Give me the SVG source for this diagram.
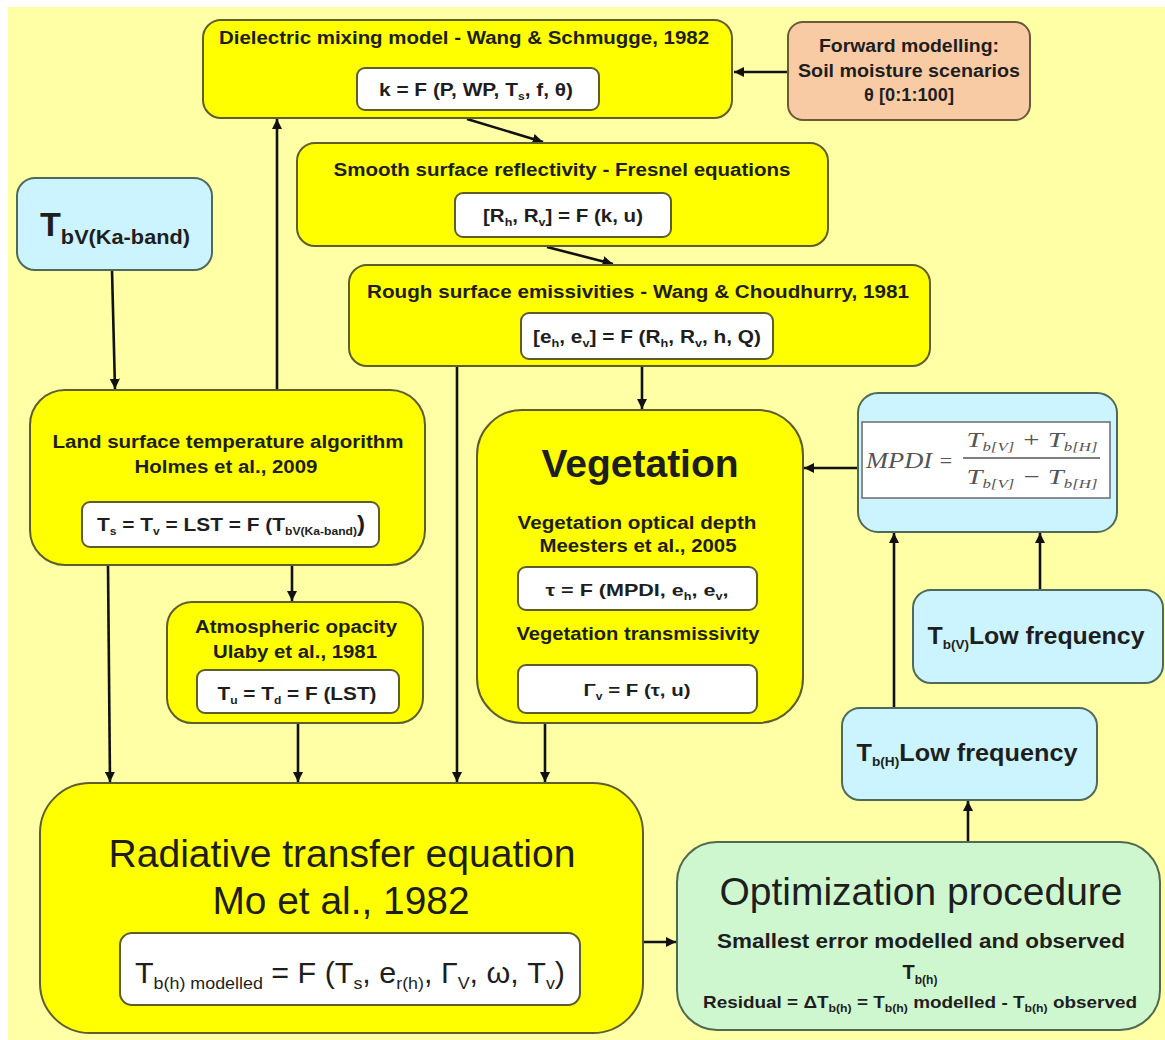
<svg xmlns="http://www.w3.org/2000/svg" width="1165" height="1040" viewBox="0 0 1165 1040">
<defs>
<marker id="ah" viewBox="0 0 10 10" refX="10" refY="5" markerWidth="4" markerHeight="4" orient="auto" markerUnits="strokeWidth">
<path d="M0,0 L10,5 L0,10 z" fill="#111"/>
</marker>
<style>
text{font-family:"Liberation Sans",Arial,sans-serif;fill:#1e1e1e;text-anchor:middle}
.b{font-weight:bold}
.y{fill:#ffff00;stroke:#5e5e2c;stroke-width:2}
.bl{fill:#ccf4ff;stroke:#4f6a5a;stroke-width:2}
.gr{fill:#cff7cf;stroke:#4f6a4f;stroke-width:2}
.sa{fill:#f9cba5;stroke:#6b5a3a;stroke-width:2}
.w{fill:#ffffff;stroke:#5e5e2c;stroke-width:2}
.c{stroke:#111;stroke-width:2.6;fill:none;marker-end:url(#ah)}
.m{font-family:"Liberation Serif","Times New Roman",serif;font-style:italic;fill:#555}
</style>
</defs>
<rect x="0" y="0" width="1165" height="1040" fill="#ffffff"/>
<rect x="8" y="7" width="1157" height="1033" fill="#ffffa6"/>

<g id="connectors">
<line class="c" x1="788" y1="72" x2="734" y2="72"/>
<line class="c" x1="467" y1="119" x2="543" y2="142"/>
<line class="c" x1="547" y1="247" x2="613" y2="264"/>
<line class="c" x1="112" y1="270" x2="115" y2="389"/>
<line class="c" x1="277" y1="390" x2="277" y2="119"/>
<line class="c" x1="292" y1="565" x2="292" y2="601"/>
<line class="c" x1="108" y1="565" x2="110" y2="782"/>
<line class="c" x1="298" y1="723" x2="298" y2="782"/>
<line class="c" x1="457" y1="366" x2="457" y2="782"/>
<line class="c" x1="642" y1="366" x2="642" y2="409"/>
<line class="c" x1="545" y1="723" x2="545" y2="782"/>
<line class="c" x1="858" y1="468" x2="804" y2="468"/>
<line class="c" x1="894" y1="708" x2="894" y2="533"/>
<line class="c" x1="1040" y1="590" x2="1040" y2="533"/>
<line class="c" x1="643" y1="942" x2="676" y2="942"/>
<line class="c" x1="968" y1="842" x2="968" y2="801"/>
</g>

<g id="dielectric">
<rect class="y" x="203" y="20" width="529" height="98" rx="18"/>
<text class="b" x="464" y="44" font-size="18" textLength="490" lengthAdjust="spacingAndGlyphs">Dielectric mixing model - Wang &amp; Schmugge, 1982</text>
<rect class="w" x="357" y="68" width="242" height="42" rx="8"/>
<text class="b" x="476" y="96" font-size="19" textLength="194" lengthAdjust="spacingAndGlyphs">k = F (P, WP, T<tspan font-size="11" dy="4">s</tspan><tspan dy="-4">, f, θ)</tspan></text>
</g>

<g id="forward">
<rect class="sa" x="788" y="22" width="242" height="98" rx="15"/>
<text class="b" x="909" y="52" font-size="18" textLength="180" lengthAdjust="spacingAndGlyphs">Forward modelling:</text>
<text class="b" x="909" y="77" font-size="18" textLength="222" lengthAdjust="spacingAndGlyphs">Soil moisture scenarios</text>
<text class="b" x="909" y="101" font-size="18" textLength="90" lengthAdjust="spacingAndGlyphs">θ [0:1:100]</text>
</g>

<g id="smooth">
<rect class="y" x="297" y="143" width="531" height="103" rx="18"/>
<text class="b" x="562" y="176" font-size="18" textLength="457" lengthAdjust="spacingAndGlyphs">Smooth surface reflectivity - Fresnel equations</text>
<rect class="w" x="455" y="193" width="216" height="44" rx="8"/>
<text class="b" x="563" y="222" font-size="18" textLength="160" lengthAdjust="spacingAndGlyphs">[R<tspan font-size="11" dy="4">h</tspan><tspan dy="-4">, R</tspan><tspan font-size="11" dy="4">v</tspan><tspan dy="-4">] = F (k, u)</tspan></text>
</g>

<g id="rough">
<rect class="y" x="349" y="265" width="581" height="101" rx="18"/>
<text class="b" x="638" y="298" font-size="18" textLength="542" lengthAdjust="spacingAndGlyphs">Rough surface emissivities - Wang &amp; Choudhurry, 1981</text>
<rect class="w" x="521" y="313" width="252" height="46" rx="8"/>
<text class="b" x="647" y="343" font-size="18" textLength="228" lengthAdjust="spacingAndGlyphs">[e<tspan font-size="11" dy="4">h</tspan><tspan dy="-4">, e</tspan><tspan font-size="11" dy="4">v</tspan><tspan dy="-4">] = F (R</tspan><tspan font-size="11" dy="4">h</tspan><tspan dy="-4">, R</tspan><tspan font-size="11" dy="4">v</tspan><tspan dy="-4">, h, Q)</tspan></text>
</g>

<g id="tbv-ka">
<rect class="bl" x="17" y="178" width="195" height="92" rx="18"/>
<text class="b" x="115" y="236" font-size="33" textLength="150" lengthAdjust="spacingAndGlyphs">T<tspan font-size="21" dy="8">bV(Ka-band)</tspan></text>
</g>

<g id="land">
<rect class="y" x="30" y="390" width="395" height="175" rx="35"/>
<text class="b" x="228" y="448" font-size="18" textLength="351" lengthAdjust="spacingAndGlyphs">Land surface temperature algorithm</text>
<text class="b" x="226" y="473" font-size="18" textLength="183" lengthAdjust="spacingAndGlyphs">Holmes et al., 2009</text>
<rect class="w" x="82" y="502" width="297" height="45" rx="8"/>
<text class="b" x="231" y="531" font-size="19" textLength="268" lengthAdjust="spacingAndGlyphs">T<tspan font-size="11" dy="4">s</tspan><tspan dy="-4"> = T</tspan><tspan font-size="11" dy="4">v</tspan><tspan dy="-4"> = LST = F (T</tspan><tspan font-size="11" dy="4">bV(Ka-band)</tspan><tspan dy="-4" font-size="22">)</tspan></text>
</g>

<g id="atmos">
<rect class="y" x="167" y="602" width="256" height="121" rx="25"/>
<text class="b" x="296" y="633" font-size="18" textLength="202" lengthAdjust="spacingAndGlyphs">Atmospheric opacity</text>
<text class="b" x="295" y="658" font-size="18" textLength="164" lengthAdjust="spacingAndGlyphs">Ulaby et al., 1981</text>
<rect class="w" x="197" y="670" width="202" height="43" rx="8"/>
<text class="b" x="297" y="700" font-size="19" textLength="159" lengthAdjust="spacingAndGlyphs">T<tspan font-size="11" dy="4">u</tspan><tspan dy="-4"> = T</tspan><tspan font-size="11" dy="4">d</tspan><tspan dy="-4"> = F (LST)</tspan></text>
</g>

<g id="vegetation">
<rect class="y" x="477" y="410" width="326" height="313" rx="45"/>
<text class="b" x="640" y="477" font-size="39">Vegetation</text>
<text class="b" x="637" y="529" font-size="18" textLength="239" lengthAdjust="spacingAndGlyphs">Vegetation optical depth</text>
<text class="b" x="638" y="552" font-size="18" textLength="197" lengthAdjust="spacingAndGlyphs">Meesters et al., 2005</text>
<rect class="w" x="518" y="567" width="239" height="43" rx="8"/>
<text class="b" x="637" y="596" font-size="17" textLength="183" lengthAdjust="spacingAndGlyphs">τ = F (MPDI, e<tspan font-size="10" dy="4">h</tspan><tspan dy="-4">, e</tspan><tspan font-size="10" dy="4">v</tspan><tspan dy="-4">,</tspan></text>
<text class="b" x="638" y="640" font-size="18" textLength="243" lengthAdjust="spacingAndGlyphs">Vegetation transmissivity</text>
<rect class="w" x="518" y="665" width="239" height="48" rx="8"/>
<text class="b" x="637" y="696" font-size="17" textLength="107" lengthAdjust="spacingAndGlyphs">Γ<tspan font-size="10" dy="4">v</tspan><tspan dy="-4"> = F (τ, u)</tspan></text>
</g>

<g id="mpdi">
<rect class="bl" x="858" y="393" width="259" height="139" rx="20"/>
<rect x="862" y="422" width="248" height="76" fill="#ffffff" stroke="#6a6a6a" stroke-width="1.5"/>
<text class="m" x="899" y="468" font-size="23" textLength="66" lengthAdjust="spacingAndGlyphs">MPDI</text>
<text class="m" x="946" y="468" font-size="22" style="font-style:normal">=</text>
<text class="m" x="1032" y="447" font-size="22" textLength="131" lengthAdjust="spacingAndGlyphs">T<tspan font-size="13" dy="4">b[V]</tspan><tspan dy="-4"> + T</tspan><tspan font-size="13" dy="4">b[H]</tspan></text>
<line x1="963" y1="458" x2="1100" y2="458" stroke="#555" stroke-width="1.3"/>
<text class="m" x="1032" y="484" font-size="22" textLength="131" lengthAdjust="spacingAndGlyphs">T<tspan font-size="13" dy="4">b[V]</tspan><tspan dy="-4"> − T</tspan><tspan font-size="13" dy="4">b[H]</tspan></text>
</g>

<g id="tbv-low">
<rect class="bl" x="913" y="590" width="250" height="93" rx="18"/>
<text class="b" x="1036" y="644" font-size="24" textLength="217" lengthAdjust="spacingAndGlyphs">T<tspan font-size="13" dy="5">b(V)</tspan><tspan dy="-5">Low frequency</tspan></text>
</g>

<g id="tbh-low">
<rect class="bl" x="842" y="708" width="255" height="92" rx="18"/>
<text class="b" x="967" y="761" font-size="24" textLength="221" lengthAdjust="spacingAndGlyphs">T<tspan font-size="13" dy="5">b(H)</tspan><tspan dy="-5">Low frequency</tspan></text>
</g>

<g id="radiative">
<rect class="y" x="40" y="783" width="603" height="250" rx="50"/>
<text x="342" y="867" font-size="38" textLength="467" lengthAdjust="spacingAndGlyphs">Radiative transfer equation</text>
<text x="341" y="914" font-size="38" textLength="257" lengthAdjust="spacingAndGlyphs">Mo et al., 1982</text>
<rect class="w" x="120" y="933" width="460" height="72" rx="12"/>
<text x="350" y="983" font-size="29" textLength="430" lengthAdjust="spacingAndGlyphs">T<tspan font-size="17" dy="6">b(h) modelled</tspan><tspan dy="-6"> = F (T</tspan><tspan font-size="17" dy="6">s</tspan><tspan dy="-6">, e</tspan><tspan font-size="17" dy="6">r(h)</tspan><tspan dy="-6">, Γ</tspan><tspan font-size="17" dy="6">V</tspan><tspan dy="-6">, ω, T</tspan><tspan font-size="17" dy="6">v</tspan><tspan dy="-6">)</tspan></text>
</g>

<g id="optimization">
<rect class="gr" x="677" y="842" width="483" height="188" rx="40"/>
<text x="921" y="905" font-size="38" textLength="403" lengthAdjust="spacingAndGlyphs">Optimization procedure</text>
<text class="b" x="921" y="948" font-size="20" textLength="408" lengthAdjust="spacingAndGlyphs">Smallest error modelled and observed</text>
<text class="b" x="920" y="979" font-size="20">T<tspan font-size="12" dy="5">b(h)</tspan></text>
<text class="b" x="920" y="1008" font-size="17" textLength="434" lengthAdjust="spacingAndGlyphs">Residual = ΔT<tspan font-size="11" dy="4">b(h)</tspan><tspan dy="-4"> = T</tspan><tspan font-size="11" dy="4">b(h)</tspan><tspan dy="-4"> modelled - T</tspan><tspan font-size="11" dy="4">b(h)</tspan><tspan dy="-4"> observed</tspan></text>
</g>
</svg>
